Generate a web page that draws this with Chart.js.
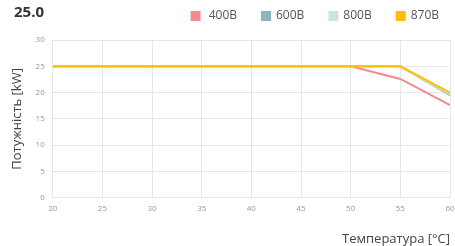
<!DOCTYPE html>
<html><head><meta charset="utf-8">
<script src="https://cdn.jsdelivr.net/npm/chart.js@4/dist/chart.umd.min.js"></script>
<style>
html,body{margin:0;padding:0;background:#fff;}
#wrap{position:relative;width:455px;height:246px;}
#ttl{position:absolute;left:14px;top:1px;font:bold 15px "Open Sans",sans-serif;color:#333;}
</style></head>
<body><div id="wrap"><div id="ttl">25.0</div><canvas id="c" width="455" height="246"></canvas></div>
<script>
const temps = [20,25,30,35,40,45,50,55,60];
const s400 = [25,25,25,25,25,25,25,22.6,17.6];
const s600 = [25,25,25,25,25,25,25,25,19.5];
const s800 = [25,25,25,25,25,25,25,25,19.7];
const s870 = [25,25,25,25,25,25,25,25,20];
const seriesNames = [' 400B','600B','800B','870B'];
const colors = ['#f28b8f','#8db4bb','#cde4dc','#ffc000'];
const allSeries = [s400,s600,s800,s870];
const pts = arr => temps.map((t,i)=>({x:t,y:arr[i]}));
const datasets = allSeries.map((s,i)=>({
  label: seriesNames[i], data: pts(s), borderColor: colors[i], backgroundColor: colors[i],
  borderWidth: 2, pointRadius: 0, tension: 0, order: 3-i
}));
const F = '"Open Sans", sans-serif';
const legendTweak = {
  id:'legendTweak',
  beforeInit(chart){
    const lg = chart.legend;
    const fit = lg.fit;
    lg.fit = function(){ fit.call(this); this.height += 8; };
  },
  afterLayout(chart){
    chart.legend.left += 9; chart.legend.right += 9;
  }
};
new Chart(document.getElementById('c'), {
  type:'line',
  data:{datasets},
  plugins:[legendTweak],
  options:{
    responsive:false, animation:false,
    layout:{padding:{left:2,right:0,top:-15,bottom:-3}},
    plugins:{
      legend:{position:'top',align:'end',
        labels:{boxWidth:8,boxHeight:8,padding:25,color:'#555',font:{family:F,size:12},
          sort:(a,b)=>a.datasetIndex-b.datasetIndex}},
      tooltip:{enabled:false}
    },
    scales:{
      x:{type:'linear',min:20,max:60,
        afterFit(scale){ scale.paddingRight = 5; },
        ticks:{stepSize:5,color:'#999',font:{family:F,size:8},padding:6},
        grid:{color:'#e6e6e6',drawTicks:false},border:{color:'#e6e6e6'},
        title:{display:true,text:'Температура [°C]',align:'end',color:'#444',font:{family:F,size:13},padding:{top:12,bottom:2}}},
      y:{min:0,max:30,
        ticks:{stepSize:5,color:'#999',font:{family:F,size:8},padding:8},
        grid:{color:'#e6e6e6',drawTicks:false},border:{color:'#e6e6e6'},
        title:{display:true,text:'Потужність [kW]',color:'#444',font:{family:F,size:13},padding:{top:7,bottom:3}}}
    }
  }
});
</script></body></html>
